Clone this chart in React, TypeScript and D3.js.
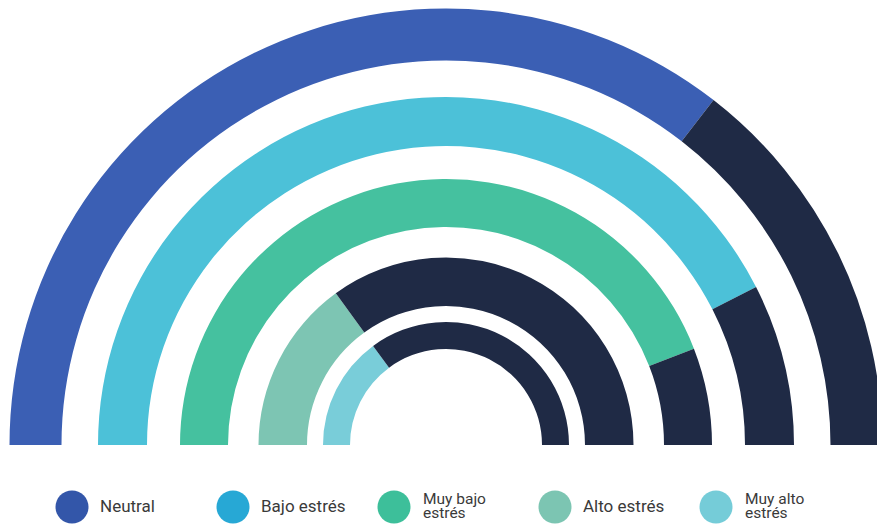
import React from "react";
import * as d3 from "d3";

const categories = ["Neutral", "Bajo estrés", "Muy bajo estrés", "Alto estrés", "Muy alto estrés"];
const legendLines = [["Neutral"], ["Bajo estrés"], ["Muy bajo", "estrés"], ["Alto estrés"], ["Muy alto", "estrés"]];
const values = [71, 85, 88.2, 30, 29.8];
const maxValue = 100;

const ringColors = ["#3b5fb4", "#4cc1d8", "#45c19f", "#7dc5b3", "#79cdd9"];
const legendColors = ["#3356a9", "#27a8d5", "#3dbf9a", "#7cc5b2", "#75ccd8"];
const restColor = "#1f2a45";

// ring layout (inner, outer radius) per category
const ringRadii: [number, number][] = [
  [384.5, 436.5],
  [299, 348],
  [218, 266],
  [139, 187.5],
  [96, 123],
];

const W = 877;
const H = 527;
const cx = 446;
const cy = 445;

export default function App() {
  const angle = d3.scaleLinear().domain([0, maxValue]).range([-Math.PI / 2, Math.PI / 2]);
  const arc = d3.arc<any>();
  const legendX = d3.scalePoint<number>().domain(d3.range(categories.length)).range([72, 716]);

  return (
    <svg width={W} height={H} style={{ position: "absolute", left: 0, top: 0, background: "#fff" }}>
      <g transform={`translate(${cx},${cy})`}>
        {categories.map((c, i) => {
          const [r0, r1] = ringRadii[i];
          const a = angle(values[i]);
          return (
            <g key={c}>
              <path
                d={arc({ innerRadius: r0, outerRadius: r1, startAngle: -Math.PI / 2, endAngle: a })!}
                fill={ringColors[i]}
              />
              <path
                d={arc({ innerRadius: r0, outerRadius: r1, startAngle: a, endAngle: Math.PI / 2 })!}
                fill={restColor}
              />
            </g>
          );
        })}
      </g>
      <g fontFamily="Roboto, 'Noto Sans', sans-serif" fill="#3a3a3a">
        {categories.map((c, i) => {
          const x = legendX(i)!;
          const lines = legendLines[i];
          return (
            <g key={c}>
              <circle cx={x} cy={507} r={16.5} fill={legendColors[i]} />
              {lines.length === 1 ? (
                <text x={x + 28} y={512} fontSize={17}>
                  {lines[0]}
                </text>
              ) : (
                <text x={x + 29} fontSize={15.5}>
                  <tspan x={x + 29} y={503.5}>{lines[0]}</tspan>
                  <tspan x={x + 29} y={518}>{lines[1]}</tspan>
                </text>
              )}
            </g>
          );
        })}
      </g>
    </svg>
  );
}
